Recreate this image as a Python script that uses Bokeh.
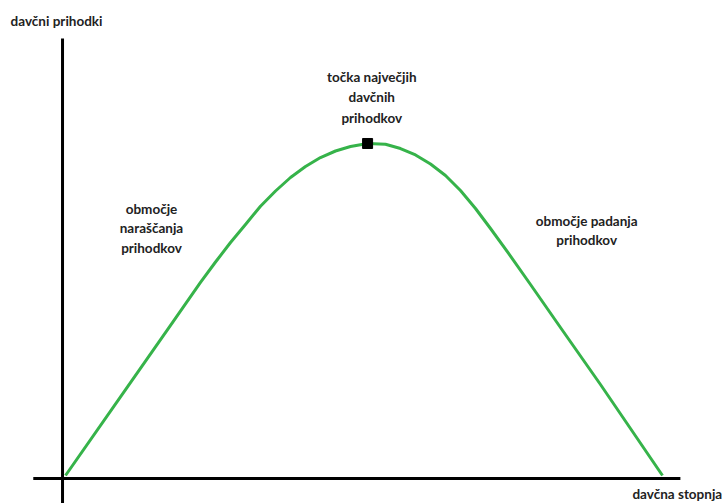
from bokeh.plotting import figure
from bokeh.models import Range1d
from bokeh.core.properties import value
from bokeh.embed import file_html
from bokeh.resources import INLINE

# Laffer curve: tax rate (%) vs. tax revenue (relative, peak = 100)
tax_rate = [0, 9.21, 17.59, 22.61, 25.13, 27.64, 30.15, 32.66, 35.18, 37.69,
            40.20, 42.71, 45.23, 47.74, 50.59, 53.60, 56.11, 58.63, 61.14,
            63.65, 66.16, 68.68, 71.19, 74.54, 77.89, 82.91, 89.61, 100]
revenue = [0, 23.67, 45.21, 58.16, 64.31, 70.18, 75.60, 81.11, 85.69, 89.76,
           93.07, 95.78, 97.74, 99.10, 100, 99.79, 98.49, 96.54, 93.83,
           90.36, 85.84, 80.42, 74.40, 66.11, 57.53, 44.58, 27.41, 0]
peak_rate = [50.6]
peak_revenue = [100]

x_axis_label = "davčna stopnja"
y_axis_label = "davčni prihodki"
peak_label = ["točka največjih", "davčnih", "prihodkov"]
rising_label = ["območje", "naraščanja", "prihodkov"]
falling_label = ["območje padanja", "prihodkov"]

FONT = value("Lato")
GREEN = "#36b34a"

p = figure(width=723, height=503, output_backend="svg", toolbar_location=None,
           x_range=Range1d(-10.89, 110.22), y_range=Range1d(-8.43, 143.07),
           min_border=0, outline_line_color=None)
p.axis.visible = False
p.grid.visible = False
p.background_fill_color = "white"
p.border_fill_color = "white"

# hand-drawn style axes
p.segment(x0=[-5.4, -0.5], y0=[-0.9, -9.0], x1=[103.0, -0.5], y1=[-0.9, 131.6],
          line_color="black", line_width=3)

# curve
p.line(tax_rate, revenue, line_color=GREEN, line_width=3, line_join="round")
p.scatter(peak_rate, peak_revenue, marker="square", size=10, color="black")

common = dict(text_font=FONT, text_font_style="bold", text_font_size="13.5px",
              text_color="#222222")

p.text(x=[-9.2], y=[136.75], text=[y_axis_label], text_align="left",
       text_baseline="middle", **common)
p.text(x=[110.0], y=[-5.7], text=[x_axis_label], text_align="right",
       text_baseline="middle", **common)

p.text(x=[51.3] * 3, y=[119.9, 113.9, 107.8], text=peak_label,
       text_align="center", text_baseline="middle", **common)
p.text(x=[14.4] * 3, y=[80.4, 74.4, 68.4], text=rising_label,
       text_align="center", text_baseline="middle", **common)
p.text(x=[87.3] * 2, y=[76.8, 70.8], text=falling_label,
       text_align="center", text_baseline="middle", **common)

open("out.html", "w").write(file_html(p, INLINE))
